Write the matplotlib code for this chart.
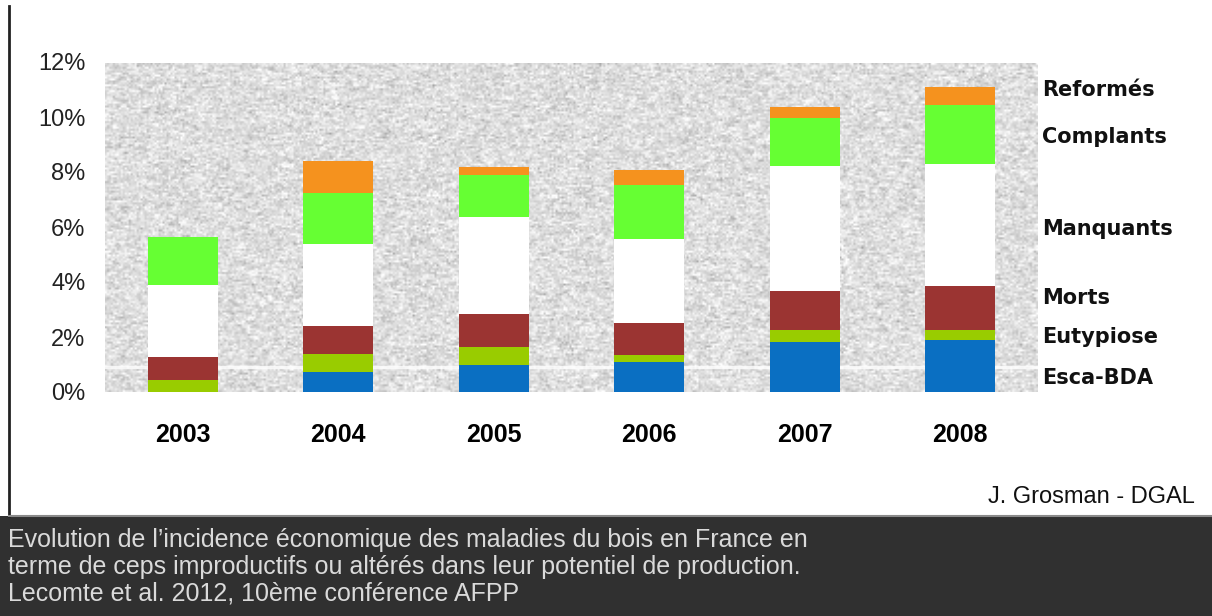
import numpy as np
import matplotlib
matplotlib.use("Agg")
import matplotlib.pyplot as plt
from matplotlib.patches import Rectangle
from matplotlib.lines import Line2D

annees = ["2003", "2004", "2005", "2006", "2007", "2008"]

# incidence (% de ceps) par catégorie, empilée de bas en haut
esca_bda = [0.00, 0.73, 0.98, 1.10, 1.82, 1.90]
eutypiose = [0.43, 0.67, 0.66, 0.24, 0.44, 0.36]
morts = [0.85, 0.99, 1.18, 1.17, 1.40, 1.58]
manquants = [2.60, 3.01, 3.54, 3.07, 4.57, 4.45]
complants = [1.77, 1.84, 1.54, 1.96, 1.72, 2.14]
reformes = [0.00, 1.17, 0.30, 0.54, 0.40, 0.67]

series = [esca_bda, eutypiose, morts, manquants, complants, reformes]
noms = ["Esca-BDA", "Eutypiose", "Morts", "Manquants", "Complants", "Reformés"]
couleurs = ["#0A6FC2", "#99CC00", "#9B3432", "#FFFFFF", "#66FF33", "#F5921E"]
y_noms = [0.51, 1.99, 3.43, 5.93, 9.29, 10.99]

plt.rcParams["font.family"] = ["Liberation Sans", "DejaVu Sans"]

fig = plt.figure(figsize=(12.12, 6.16), dpi=100)
fig.patch.set_facecolor("white")

ax = fig.add_axes([105 / 1212, 224 / 616, 933 / 1212, 330 / 616])
ax.set_xlim(-0.5, 5.5)
ax.set_ylim(0, 11.93)

# fond granité gris clair
rng = np.random.default_rng(7)
bruit = rng.normal(size=(170, 470))
k = np.ones(3) / 3
bruit = np.apply_along_axis(lambda r: np.convolve(r, k, mode="same"), 1, bruit)
fond = np.clip(0.87 + 0.07 * bruit + 0.05 * rng.normal(size=bruit.shape), 0.55, 1.0)
ax.imshow(fond, cmap="gray", vmin=0, vmax=1, extent=(-0.5, 5.5, 0, 11.93),
          aspect="auto", interpolation="bilinear", zorder=0)
ax.axhline(0.9, color="white", lw=2.5, alpha=0.8, zorder=1)

x = np.arange(len(annees))
bas = np.zeros(len(annees))
for vals, c in zip(series, couleurs):
    ax.bar(x, vals, width=0.45, bottom=bas, color=c, edgecolor="none", zorder=2)
    bas += np.array(vals)

for nom, yy in zip(noms[::-1], y_noms[::-1]):
    ax.text(5.528, yy, nom, transform=ax.transData, ha="left", va="center",
            fontsize=15, fontweight="bold", family="DejaVu Sans",
            color="#111111", clip_on=False)

for s in ax.spines.values():
    s.set_visible(False)
ax.set_xticks(x, annees)
ax.set_yticks(range(0, 13, 2), [f"{v}%" for v in range(0, 13, 2)])
ax.tick_params(axis="x", length=0, pad=22, labelsize=18)
ax.tick_params(axis="y", length=0, pad=14, labelsize=17, labelcolor="#222222")
for t in ax.get_xticklabels():
    t.set_fontweight("bold")

# cadre, signature et bandeau de légende
fig.add_artist(Line2D([9 / 1212, 9 / 1212], [1 - 6 / 616, 1 - 516 / 616],
                      color="#222222", lw=2, transform=fig.transFigure))
fig.add_artist(Rectangle((0, 0), 1, 1 - 516 / 616, transform=fig.transFigure,
                         facecolor="#303030", edgecolor="none"))
fig.add_artist(Line2D([9 / 1212, 1], [1 - 516 / 616, 1 - 516 / 616],
                      color="#8a8a8a", lw=1.5, transform=fig.transFigure))

fig.text(1195 / 1212, 1 - 497 / 616, "J. Grosman - DGAL", ha="right", va="center",
         fontsize=17, color="#111111")

legende = ["Evolution de l’incidence économique des maladies du bois en France en",
           "terme de ceps improductifs ou altérés dans leur potentiel de production.",
           "Lecomte et al. 2012, 10ème conférence AFPP"]
for i, ligne in enumerate(legende):
    fig.text(8 / 1212, 1 - (540 + 27 * i) / 616, ligne, ha="left", va="center",
             fontsize=18, color="#dadada")

fig.savefig("out.png", dpi=100)
